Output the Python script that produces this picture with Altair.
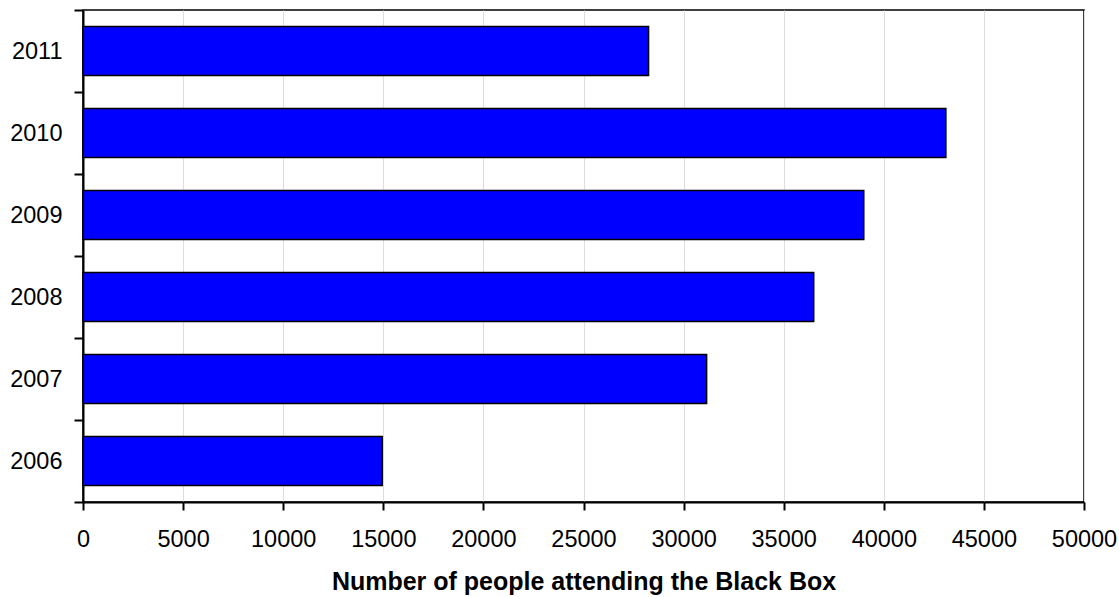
import altair as alt
import pandas as pd

# Attendance per year
years = ["2006", "2007", "2008", "2009", "2010", "2011"]
attendance = [14950, 31150, 36500, 39000, 43100, 28250]

df = pd.DataFrame({"Year": years, "People": attendance})

FONT = "Liberation Sans"

chart = (
    alt.Chart(df)
    .mark_bar(color="#0000FF", stroke="#000000", strokeWidth=1.5, height={"band": 0.6})
    .encode(
        x=alt.X(
            "People:Q",
            scale=alt.Scale(domain=[0, 50000], nice=False),
            axis=alt.Axis(
                title="Number of people attending the Black Box",
                values=list(range(0, 50001, 5000)),
                format="d",
                grid=True,
                gridColor="#dedede",
                gridWidth=1,
                domainColor="#000000",
                domainWidth=2,
                tickColor="#000000",
                tickWidth=2,
                tickSize=8,
                labelFont=FONT,
                labelFontSize=23.5,
                labelColor="#000000",
                labelPadding=17,
                labelFlush=False,
                titleFont=FONT,
                titleFontSize=25,
                titleFontWeight="bold",
                titleColor="#000000",
                titlePadding=19,
            ),
        ),
        y=alt.Y(
            "Year:N",
            sort="descending",
            scale=alt.Scale(paddingInner=0, paddingOuter=0),
            axis=alt.Axis(
                title=None,
                tickBand="extent",
                grid=False,
                domainColor="#000000",
                domainWidth=2,
                tickColor="#000000",
                tickWidth=2,
                tickSize=9,
                labelFont=FONT,
                labelFontSize=23.5,
                labelColor="#000000",
                labelPadding=12,
            ),
        ),
    )
    .properties(
        width=1001,
        height=492,
        autosize=alt.AutoSizeParams(type="none"),
        padding={"left": 83, "top": 10, "right": 35, "bottom": 95},
    )
    .configure_view(stroke="#000000", strokeWidth=1.5)
)

chart.save("out.html", embed_options={"renderer": "svg", "actions": False})
